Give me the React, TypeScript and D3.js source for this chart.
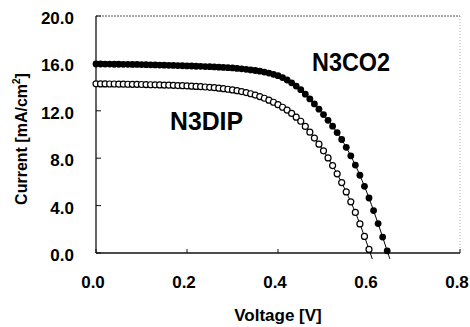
import * as d3 from "d3";

// J-V curves of two dye cells

const VOLTAGE = [
  0.0, 0.01, 0.02, 0.03, 0.04, 0.05, 0.06, 0.07, 0.08, 0.09,
  0.1, 0.11, 0.12, 0.13, 0.14, 0.15, 0.16, 0.17, 0.18, 0.19,
  0.2, 0.21, 0.22, 0.23, 0.24, 0.25, 0.26, 0.27, 0.28, 0.29,
  0.3, 0.31, 0.32, 0.33, 0.34, 0.35, 0.36, 0.37, 0.38, 0.39,
  0.4, 0.41, 0.42, 0.43, 0.44, 0.45, 0.46, 0.47, 0.48, 0.49,
  0.5, 0.51, 0.52, 0.53, 0.54, 0.55, 0.56, 0.57, 0.58, 0.59,
  0.6, 0.61, 0.62, 0.63, 0.64,
];

const N3CO2 = [
  15.95, 15.95, 15.94, 15.94, 15.93, 15.93, 15.92, 15.92, 15.91, 15.91,
  15.9, 15.89, 15.88, 15.87, 15.86, 15.85, 15.84, 15.83, 15.82, 15.8,
  15.79, 15.78, 15.76, 15.75, 15.73, 15.72, 15.7, 15.68, 15.66, 15.64,
  15.62, 15.58, 15.54, 15.5, 15.45, 15.4, 15.34, 15.27, 15.18, 15.08,
  14.96, 14.8, 14.6, 14.36, 14.09, 13.78, 13.4, 13.0, 12.58, 12.14,
  11.68, 11.2, 10.7, 10.16, 9.58, 8.92, 8.2, 7.42, 6.56, 5.63,
  4.64, 3.58, 2.48, 1.34, 0.18,
];

const N3DIP = [
  14.28, 14.27, 14.27, 14.26, 14.26, 14.25, 14.25, 14.24, 14.23, 14.23,
  14.22, 14.21, 14.2, 14.19, 14.18, 14.17, 14.16, 14.15, 14.13, 14.12,
  14.1, 14.08, 14.06, 14.04, 14.01, 13.98, 13.95, 13.91, 13.87, 13.82,
  13.76, 13.7, 13.62, 13.54, 13.44, 13.33, 13.2, 13.06, 12.9, 12.72,
  12.52, 12.3, 12.06, 11.78, 11.46, 11.12, 10.68, 10.2, 9.7, 9.18,
  8.62, 8.02, 7.38, 6.68, 5.94, 5.15, 4.32, 3.42, 2.45, 1.4,
  0.3,
];

const X_TICKS = [0, 0.2, 0.4, 0.6, 0.8];
const Y_TICKS = [0, 4, 8, 12, 16, 20];

const W = 470;
const H = 327;
const M = { top: 16, right: 10, bottom: 74, left: 96 };
const FONT = "Arial, 'Liberation Sans', sans-serif";

type Pt = { v: number; j: number };

export default function App() {
  const x = d3.scaleLinear().domain([0, 0.8]).range([M.left, W - M.right]);
  const y = d3.scaleLinear().domain([0, 20]).range([H - M.bottom, M.top]);

  const co2: Pt[] = N3CO2.map((j, i) => ({ v: VOLTAGE[i], j }));
  const dip: Pt[] = N3DIP.map((j, i) => ({ v: VOLTAGE[i], j }));

  // thin guide line runs a little past the last point, below the axis
  const withTail = (pts: Pt[]): Pt[] => {
    const a = pts[pts.length - 2];
    const b = pts[pts.length - 1];
    const t = (b.j + 0.5) / (a.j - b.j);
    return [...pts, { v: b.v + (b.v - a.v) * t, j: -0.5 }];
  };

  const line = d3
    .line<Pt>()
    .x((d) => x(d.v))
    .y((d) => y(d.j))
    .curve(d3.curveMonotoneX);

  const x0 = x(0);
  const x1 = x(0.8);
  const yb = y(0);
  const yt = y(20);

  return (
    <svg
      width={W}
      height={H}
      style={{ position: "absolute", left: 0, top: 0, background: "#fff" }}
      fontFamily={FONT}
      fontWeight="bold"
    >
      {/* frame: solid left/bottom, faint dotted top/right */}
      <line x1={x0} x2={x1} y1={yt} y2={yt} stroke="#555" strokeWidth={1} strokeDasharray="2,1" />
      <line x1={x1} x2={x1} y1={yt} y2={yb} stroke="#aaa" strokeWidth={1} strokeDasharray="1,2" />
      <line x1={x0} x2={x0} y1={yt} y2={yb} stroke="#111" strokeWidth={1.3} />
      <line x1={x0} x2={x1} y1={yb} y2={yb} stroke="#111" strokeWidth={1.3} />

      {Y_TICKS.map((t) => (
        <g key={`y${t}`}>
          <line x1={x0} x2={x0 + 5} y1={y(t)} y2={y(t)} stroke="#111" />
          <text x={74} y={y(t) + 8} textAnchor="end" fontSize={17}>
            {t.toFixed(1)}
          </text>
        </g>
      ))}

      {X_TICKS.map((t) => (
        <g key={`x${t}`}>
          <line x1={x(t)} x2={x(t)} y1={yb} y2={yb - 4} stroke="#111" />
          <text x={x(t) - 3} y={288} textAnchor="middle" fontSize={17}>
            {t.toFixed(1)}
          </text>
        </g>
      ))}

      <text x={278} y={321} textAnchor="middle" fontSize={17}>
        Voltage [V]
      </text>
      <text
        transform={`translate(27,139) rotate(-90)`}
        textAnchor="middle"
        fontSize={16}
      >
        Current [mA/cm
        <tspan dy={-7} fontSize={10}>2</tspan>
        <tspan dy={7}>]</tspan>
      </text>

      <path d={line(withTail(co2)) ?? ""} fill="none" stroke="#000" strokeWidth={1} />
      <path d={line(withTail(dip)) ?? ""} fill="none" stroke="#000" strokeWidth={1} />

      {dip.map((d, i) => (
        <circle
          key={`d${i}`}
          cx={x(d.v)}
          cy={y(d.j)}
          r={3}
          fill="#fff"
          stroke="#000"
          strokeWidth={1.2}
        />
      ))}
      {co2.map((d, i) => (
        <circle key={`c${i}`} cx={x(d.v)} cy={y(d.j)} r={3.4} fill="#000" />
      ))}

      <text x={312} y={71} fontSize={25} textLength={78} lengthAdjust="spacingAndGlyphs">
        N3CO2
      </text>
      <text x={170} y={130} fontSize={25} textLength={73} lengthAdjust="spacingAndGlyphs">
        N3DIP
      </text>
    </svg>
  );
}
